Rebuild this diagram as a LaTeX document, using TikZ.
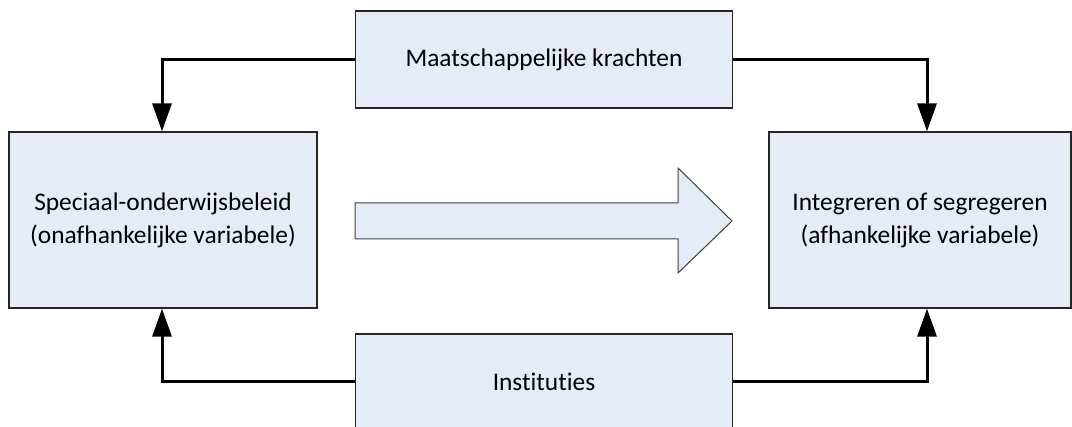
\documentclass[tikz,border=0pt]{standalone}
\usepackage{fontspec}
\setmainfont[RawFeature=-liga]{Carlito}
\usetikzlibrary{arrows.meta}

\definecolor{relleno}{RGB}{229,235,247}

\tikzset{
  caja/.style={draw=black!85, line width=1.2pt, fill=relleno, align=center,
    inner sep=0pt, font=\fontsize{25.4}{33}\selectfont},
  flecha/.style={line width=3pt, -{Triangle[length=28pt,width=19pt]}}
}

\begin{document}
\begin{tikzpicture}[x=1pt,y=-1pt]
  % Marco
  \clip (0,0) rectangle (1072,427);

  % Cajas
  \node[caja, minimum width=377pt, minimum height=97pt] (fuerzas) at (544,59.5) {Maatschappelijke krachten};
  \node[caja, minimum width=308pt, minimum height=176pt] (beleid) at (163,220)
    {Speciaal-onderwijsbeleid\\(onafhankelijke variabele)};
  \node[caja, minimum width=302pt, minimum height=176pt] (uitkomst) at (920,220)
    {Integreren of segregeren\\(afhankelijke variabele)};
  \node[caja, minimum width=377pt, minimum height=95pt] (instituties) at (544,381.5) {Instituties};

  % Flecha grande
  \draw[draw=black!75, line width=1pt, fill=relleno]
    (355,203) -- (678,203) -- (678,168) -- (732,221) -- (678,273)
    -- (678,239) -- (355,239) -- cycle;

  % Conectores
  \draw[flecha] (fuerzas.west) -| ([xshift=-1pt]beleid.north);
  \draw[flecha] (fuerzas.east) -| ([xshift=7pt]uitkomst.north);
  \draw[flecha] (instituties.west) -| ([xshift=-1pt]beleid.south);
  \draw[flecha] (instituties.east) -| ([xshift=7pt]uitkomst.south);
\end{tikzpicture}
\end{document}
